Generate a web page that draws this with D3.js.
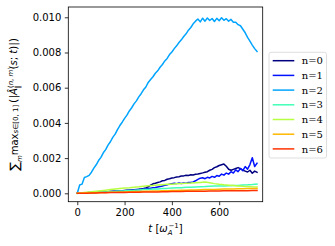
<!DOCTYPE html>
<html><head><meta charset="utf-8">
<script src="https://cdn.jsdelivr.net/npm/d3@7"></script>
<style>body{margin:0;background:#fff}svg{display:block}</style>
</head><body>
<script>
// values in units of 1e-3
const seriesNames = ["n=0","n=1","n=2","n=3","n=4","n=5","n=6"];
const colors = ["#000080","#0012ff","#00a4ff","#41ffb6","#b6ff41","#ffb900","#ff3200"];
const tFine = [0,10,20,30,40,50,60,70,80,90,100,110,120,130,140,150,160,170,180,190,200,210,220,230,240,250,260,270,280,290,300,310,320,330,340,350,360,370,380,390,400,410,420,430,440,450,460,470,480,490,500,510,520,530,540,550,560,570,580,590,600,610,620,630,640,650,660,670,680,690,700,710,720,730,740,750,760];
const tCoarse = [0,20,40,60,80,100,120,140,160,180,200,220,240,260,280,300,320,340,360,380,400,420,440,460,480,500,520,540,560,580,600,620,640,660,680,700,720,740,760];
const n0 = [0,0.01,0.02,0.03,0.03,0.04,0.05,0.05,0.06,0.06,
0.07,0.08,0.09,0.09,0.10,0.11,0.12,0.13,0.14,0.15,
0.16,0.17,0.18,0.19,0.20,0.22,0.23,0.25,0.27,0.31,
0.37,0.46,0.54,0.57,0.61,0.65,0.71,0.73,0.80,0.83,
0.87,0.89,0.93,0.94,0.98,0.99,1.02,1.01,1.05,1.04,
1.08,1.10,1.13,1.16,1.20,1.23,1.31,1.36,1.46,1.51,
1.58,1.62,1.66,1.54,1.37,1.31,1.36,1.41,1.46,1.40,
1.31,1.26,1.21,1.31,1.14,1.26,1.19];
const n1 = [0,0.01,0.01,0.02,0.03,0.03,0.04,0.05,0.05,0.06,
0.07,0.07,0.08,0.09,0.10,0.10,0.11,0.12,0.13,0.14,
0.15,0.16,0.17,0.18,0.19,0.20,0.21,0.22,0.24,0.25,
0.27,0.29,0.31,0.33,0.36,0.38,0.42,0.45,0.48,0.52,
0.55,0.57,0.55,0.58,0.56,0.59,0.57,0.61,0.62,0.65,
0.71,0.79,0.86,0.88,0.83,0.91,0.87,0.96,0.91,1.01,
0.97,1.09,1.03,1.15,1.09,1.23,1.15,1.33,1.23,1.41,
1.29,1.52,1.37,1.63,2.02,1.52,1.71];
const n2 = [0,0.47,0.52,0.90,0.95,1.02,1.20,1.43,1.62,1.86,
2.04,2.30,2.48,2.74,2.93,3.18,3.36,3.62,3.85,4.04,
4.26,4.44,4.68,4.86,5.08,5.25,5.48,5.66,5.88,6.04,
6.30,6.46,6.62,6.82,6.96,7.16,7.32,7.52,7.66,7.88,
8.03,8.22,8.38,8.57,8.72,8.91,9.06,9.27,9.42,9.63,
9.78,9.90,9.74,9.95,9.78,9.96,9.82,9.93,9.76,9.94,
9.80,9.97,9.83,9.92,9.78,9.88,9.72,9.72,9.58,9.52,
9.32,9.12,8.86,8.64,8.42,8.22,8.06];
const n3 = [0,0.01,0.03,0.04,0.05,0.07,0.08,0.10,0.11,0.13,
0.14,0.16,0.17,0.19,0.21,0.22,0.24,0.25,0.27,0.28,
0.30,0.31,0.32,0.34,0.35,0.36,0.37,0.38,0.40,0.41,
0.42,0.41,0.43,0.45,0.44,0.47,0.48,0.50,0.53];
const n4 = [0,0.03,0.06,0.09,0.12,0.15,0.18,0.21,0.24,0.27,
0.30,0.32,0.35,0.37,0.40,0.43,0.45,0.47,0.49,0.51,
0.52,0.54,0.55,0.57,0.58,0.60,0.62,0.64,0.60,0.55,
0.51,0.48,0.46,0.44,0.42,0.40,0.39,0.37,0.36];
const n5 = [0,0.01,0.02,0.02,0.03,0.04,0.05,0.06,0.06,0.07,
0.08,0.09,0.10,0.10,0.11,0.12,0.13,0.13,0.14,0.15,
0.16,0.16,0.17,0.18,0.19,0.19,0.20,0.21,0.22,0.22,
0.23,0.24,0.24,0.25,0.26,0.26,0.27,0.28,0.28];
const n6 = [0,0.01,0.01,0.02,0.02,0.03,0.03,0.04,0.04,0.05,
0.05,0.06,0.06,0.06,0.07,0.07,0.08,0.08,0.09,0.09,
0.10,0.10,0.10,0.11,0.11,0.12,0.12,0.12,0.13,0.13,
0.13,0.14,0.14,0.14,0.15,0.15,0.15,0.16,0.16];
const xTicks = [0,200,400,600];
const yTicks = [0,2,4,6,8,10];
const yTickLabels = ["0.000","0.002","0.004","0.006","0.008","0.010"];

const series = [
  {t:tFine, v:n0},{t:tFine, v:n1},{t:tFine, v:n2},
  {t:tCoarse, v:n3},{t:tCoarse, v:n4},{t:tCoarse, v:n5},{t:tCoarse, v:n6}
];

const L=68.3, R=262.7, T=7, B=201.7;
const x = d3.scaleLinear().domain([-38,784]).range([L,R]);
const y = d3.scaleLinear().domain([-0.477,10.585]).range([B,T]);

const svg = d3.select("body").append("svg").attr("width",335).attr("height",246);
const font = "DejaVu Sans";

const gx = svg.append("g").attr("transform",`translate(0,${B})`)
  .call(d3.axisBottom(x).tickValues(xTicks).tickSize(3.5).tickPadding(3.5).tickFormat(d3.format("d")));
const gy = svg.append("g").attr("transform",`translate(${L},0)`)
  .call(d3.axisLeft(y).tickValues(yTicks).tickSize(3.5).tickPadding(3.5).tickFormat((d,i)=>yTickLabels[i]));
[gx,gy].forEach(g=>{
  g.select(".domain").remove();
  g.selectAll(".tick line").attr("stroke","#000").attr("stroke-width",0.8);
  g.selectAll(".tick text").attr("font-family",font).attr("font-size",10).attr("fill","#000");
});

const line = d3.line().x(d=>x(d[0])).y(d=>y(d[1]));
const plot = svg.append("g");
series.forEach((s,i)=>{
  plot.append("path").datum(s.t.map((t,j)=>[t,s.v[j]]))
    .attr("d",line).attr("fill","none").attr("stroke",colors[i])
    .attr("stroke-width",1.5).attr("stroke-linejoin","round").attr("stroke-linecap","square");
});

svg.append("rect").attr("x",L).attr("y",T).attr("width",R-L).attr("height",B-T)
  .attr("fill","none").attr("stroke","#000").attr("stroke-width",0.8);

// x label
const xl = svg.append("text").attr("x",(L+R)/2).attr("y",232).attr("text-anchor","middle")
  .attr("font-family",font).attr("font-size",10).attr("fill","#000");
xl.append("tspan").attr("font-style","italic").text("t");
xl.append("tspan").text(" [");
xl.append("tspan").attr("font-style","italic").text("ω");
xl.append("tspan").attr("font-style","italic").attr("font-size",7).attr("dy",2.5).text("A");
xl.append("tspan").attr("font-size",7).attr("dy",-6.5).attr("dx",-4).text("−1");
xl.append("tspan").attr("dy",4).text("]");

// y label
const yl = svg.append("text").attr("transform",`translate(19,${(T+B)/2}) rotate(-90)`)
  .attr("text-anchor","middle").attr("font-family",font).attr("font-size",10).attr("fill","#000");
yl.append("tspan").attr("font-size",13).text("∑");
yl.append("tspan").attr("font-size",7).attr("font-style","italic").attr("dy",3).text("m");
yl.append("tspan").attr("dy",-4).text("max");
yl.append("tspan").attr("font-size",7).attr("dy",2.5).text("");
yl.append("tspan").attr("font-size",7).attr("font-style","italic").text("s");
yl.append("tspan").attr("font-size",7).text("∈[0, 1]");
yl.append("tspan").attr("dy",-1.5).attr("dx",2).attr("font-size",11).text("(|");
yl.append("tspan").attr("font-style","italic").text("Â");
yl.append("tspan").attr("font-size",7).attr("dy",-4).text("(");
yl.append("tspan").attr("font-size",7).attr("font-style","italic").text("n");
yl.append("tspan").attr("font-size",7).text(", ");
yl.append("tspan").attr("font-size",7).attr("font-style","italic").text("m");
yl.append("tspan").attr("font-size",7).text(")");
yl.append("tspan").attr("font-size",7).attr("dy",7).attr("dx",-22).text("∥");
yl.append("tspan").attr("dy",-3).attr("dx",16).text("(");
yl.append("tspan").attr("font-style","italic").text("s");
yl.append("tspan").text("; ");
yl.append("tspan").attr("font-style","italic").text("t");
yl.append("tspan").text(")");
yl.append("tspan").attr("font-size",11).text("|)");

// legend
const lg = svg.append("g");
lg.append("rect").attr("x",269).attr("y",52.3).attr("width",57.5).attr("height",105.7)
  .attr("rx",2).attr("fill","#fff").attr("fill-opacity",0.8).attr("stroke","#d6d6d6").attr("stroke-width",0.8);
seriesNames.forEach((n,i)=>{
  const yy = 60.7 + i*14.7;
  lg.append("line").attr("x1",272.7).attr("x2",294.3).attr("y1",yy).attr("y2",yy)
    .attr("stroke",colors[i]).attr("stroke-width",1.5);
  lg.append("text").attr("x",301.7).attr("y",yy+3.6).attr("font-family","DejaVu Serif")
    .attr("font-size",10).attr("fill","#000").text(n);
});
</script>
</body></html>
